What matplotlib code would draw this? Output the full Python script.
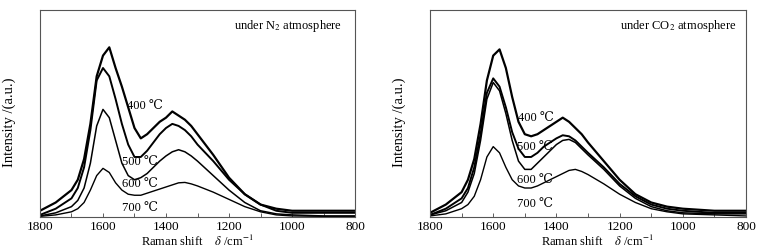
import matplotlib
matplotlib.use("Agg")
import matplotlib.pyplot as plt
from matplotlib.ticker import MultipleLocator

plt.rcParams['font.family'] = ['Liberation Serif', 'DejaVu Serif']
plt.rcParams['mathtext.fontset'] = 'stix'

shift = [1800, 1750, 1700, 1680, 1660, 1640, 1620, 1600, 1580, 1560, 1540, 1520,
         1500, 1480, 1460, 1440, 1420, 1400, 1380, 1360, 1340, 1320, 1300, 1250,
         1200, 1150, 1100, 1050, 1000, 900, 800]

n2_400 = [3, 7, 13, 18, 28, 45, 68, 78, 82, 72, 63, 53, 43, 38, 40, 43, 46, 48, 51, 49,
          47, 44, 40, 30, 19, 11, 6, 4, 3, 3, 3]
n2_500 = [1, 4, 9, 14, 24, 42, 66, 72, 68, 57, 45, 35, 29, 29, 32, 36, 40, 43, 45, 44,
          42, 39, 35, 27, 18, 11, 6, 3, 2, 2, 2]
n2_600 = [0.5, 2, 5, 8, 14, 26, 44, 52, 48, 37, 26, 20, 18, 19, 21, 24, 27, 29.5, 31.5,
          32.5, 31.5, 29.5, 27, 20, 13, 7, 3, 1.5, 1, 0.5, 0.5]
n2_700 = [0.3, 1, 2.5, 4, 7, 13, 20, 23.5, 21.5, 16.5, 13, 11, 10.5, 10.5, 11.5, 12.5,
          13.5, 14.5, 15.5, 16.5, 16.7, 16, 15, 12, 8.5, 5, 2.5, 1, 0.5, 0.3, 0.3]

co2_400 = [2, 6, 12, 18, 28, 45, 66, 78, 81, 72, 58, 46, 40, 39, 40, 42, 44, 46, 48, 46,
           43, 40, 36, 27, 18, 11, 7, 5, 4, 3, 3]
co2_500 = [1, 4, 9, 14, 24, 40, 60, 67, 63, 53, 41, 33, 29, 29, 31, 34, 36, 38, 39.5, 39,
           37, 34, 31, 24, 16, 10, 6, 4, 3, 2, 2]
co2_600 = [1, 3, 7, 12, 21, 37, 57, 65, 61, 50, 37, 27, 23, 23, 26, 29, 32, 35, 37, 37.5,
           36, 33, 30, 23, 15, 9, 5, 3, 2, 1.5, 1.5]
co2_700 = [0.5, 1.5, 4, 6, 10, 18, 29, 34, 31, 24, 18, 15, 14, 14, 15, 16.5, 18, 19.5, 21,
           22.5, 23, 22, 20.5, 16, 11, 7, 4, 2.5, 1.5, 1, 0.5]

temp_labels = ["400 ℃", "500 ℃", "600 ℃", "700 ℃"]
n2_label_pos = [(1525, 53.7), (1541, 26.8), (1541, 16), (1541, 4.3)]
co2_label_pos = [(1520, 47.8), (1526, 33.6), (1526, 18), (1526, 6.4)]

fig = plt.figure(figsize=(7.63, 2.52), dpi=100)
ax1 = fig.add_axes([0.0524, 0.139, 0.4129, 0.821])
ax2 = fig.add_axes([0.5636, 0.139, 0.4141, 0.821])

panels = [
    (ax1, [n2_400, n2_500, n2_600, n2_700], n2_label_pos, r"under N$_2$ atmosphere", 0.96, 0.5),
    (ax2, [co2_400, co2_500, co2_600, co2_700], co2_label_pos, r"under CO$_2$ atmosphere", 0.97, 0.53),
]
widths = [1.6, 1.4, 1.1, 1.0]

for ax, series, lpos, title, tx, xlx in panels:
    for s, w in zip(series, widths):
        ax.plot(shift, s, color='black', lw=w)
    for lab, (x, y) in zip(temp_labels, lpos):
        ax.text(x, y, lab, fontsize=9, ha='left', va='center')
    ax.text(tx, 0.923, title, transform=ax.transAxes, fontsize=9, ha='right', va='center')
    ax.set_xlim(1800, 800)
    ax.set_ylim(0, 100)
    ax.set_yticks([])
    ax.xaxis.set_major_locator(MultipleLocator(200))
    ax.xaxis.set_minor_locator(MultipleLocator(100))
    ax.tick_params(axis='x', which='both', direction='in', labelsize=9.5, length=3,
                   width=0.6, pad=3, color='#444')
    for sp in ax.spines.values():
        sp.set_color('#555')
        sp.set_linewidth(0.8)
    ax.set_xlabel(r"Raman shift    $\delta$ /cm$^{-1}$", fontsize=9, labelpad=0)
    ax.xaxis.set_label_coords(xlx, -0.083)
    ax.xaxis.label.set_va('top')
    ax.set_ylabel("Intensity /(a.u.)", fontsize=10.5)
    ax.yaxis.set_label_coords(-0.077, 0.46)

fig.savefig("out.png", dpi=100)
